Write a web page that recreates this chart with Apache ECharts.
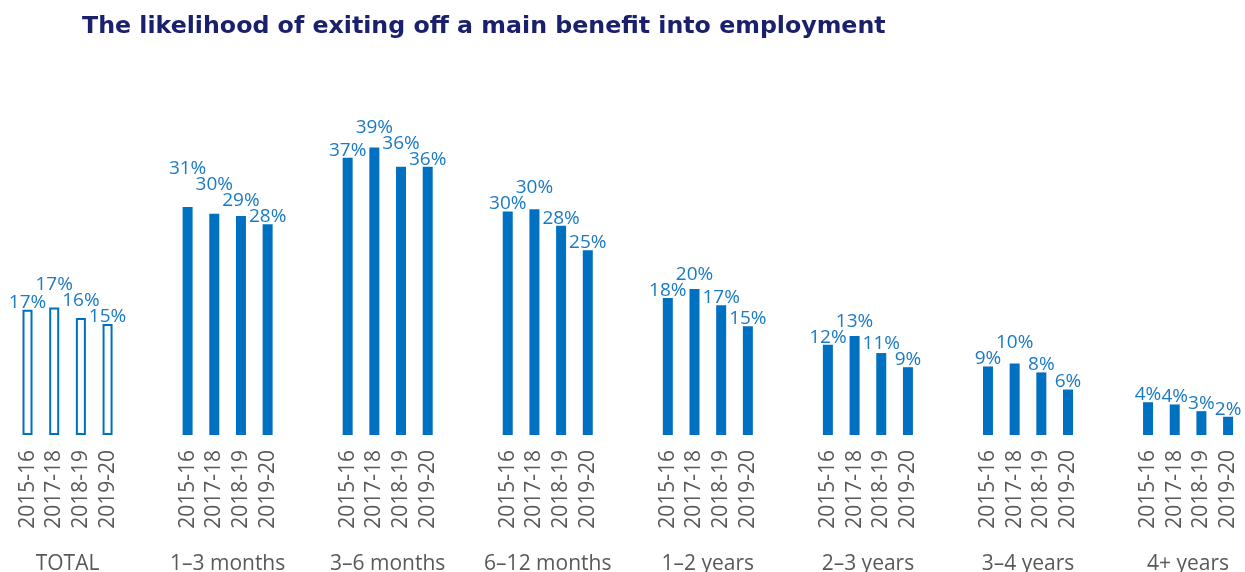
<!DOCTYPE html>
<html>
<head>
<meta charset="utf-8">
<script src="https://cdn.jsdelivr.net/npm/echarts@6/dist/echarts.min.js"></script>
<style>
html,body{margin:0;padding:0;background:#fff;}
#chart{width:1245px;height:572px;}
</style>
</head>
<body>
<div id="chart"></div>
<script>
// ---- data ----
const titleText = 'The likelihood of exiting off a main benefit into employment';
const groups = ['TOTAL', '1–3 months', '3–6 months', '6–12 months', '1–2 years', '2–3 years', '3–4 years', '4+ years'];
const years = ['2015-16', '2017-18', '2018-19', '2019-20'];
const totalVals = [16.8, 17.1, 15.7, 14.9];
const m1to3 = [30.6, 29.7, 29.4, 28.3];
const m3to6 = [37.2, 38.6, 36.0, 36.0];
const m6to12 = [30.0, 30.3, 28.1, 24.8];
const y1to2 = [18.4, 19.6, 17.4, 14.6];
const y2to3 = [12.1, 13.3, 11.0, 9.1];
const y3to4 = [9.2, 9.6, 8.4, 6.1];
const y4plus = [4.4, 4.1, 3.2, 2.45];
const groupValues = [totalVals, m1to3, m3to6, m6to12, y1to2, y2to3, y3to4, y4plus];

// ---- build slots: gap, 4 bars, gap per group ----
const BLUE = '#0070c0';
const LABEL_BLUE = '#1a7ac4';
const LABEL_SIZE = 19;
const LABEL_FONT = LABEL_SIZE + 'px "Open Sans"';
const categories = [];
const seriesData = [];
groups.forEach(function (g, gi) {
  categories.push('gap' + gi + 'a');
  seriesData.push(null);
  years.forEach(function (y, yi) {
    categories.push(gi + '|' + y);
    const item = { value: groupValues[gi][yi] };
    if (gi === 0) {
      item.itemStyle = { color: '#ffffff', borderColor: BLUE, borderWidth: 2 };
    }
    seriesData.push(item);
  });
  categories.push('gap' + gi + 'b');
  seriesData.push(null);
});

function fmtPct(v) { return Math.round(v) + '%'; }
const measureCtx = document.createElement('canvas').getContext('2d');
measureCtx.font = LABEL_FONT;
function textW(s) { return measureCtx.measureText(s).width; }

const chart = echarts.init(document.getElementById('chart'));

// label stacking: labels that would collide with a neighbour are lifted
function labelLayout(p) {
  const i = p.dataIndex;
  const g = Math.floor(i / 6);
  const k = (i % 6) - 1;
  const vals = groupValues[g];
  const r = p.rect;
  const ppu = r.height / vals[k];
  const base = r.y + r.height;
  let step = 26.7;
  try {
    const a = chart.convertToPixel({ xAxisIndex: 0 }, categories[g * 6 + 1]);
    const c = chart.convertToPixel({ xAxisIndex: 0 }, categories[g * 6 + 2]);
    if (isFinite(a) && isFinite(c)) step = c - a;
  } catch (e) {}
  const H = LABEL_SIZE * 0.84;
  const GAP = 2;
  const w = vals.map(function (v) { return textW(fmtPct(v)); });
  function ov(a, b) { return (w[a] + w[b]) / 2 > step + 1; }
  const nat = vals.map(function (v) { return base - v * ppu - GAP; });
  const b = nat.slice();
  for (let j = 2; j >= 1; j--) {
    b[j] = ov(j, j + 1) ? Math.min(nat[j], b[j + 1] - H) : nat[j];
  }
  if (ov(0, 1)) {
    if (vals[0] > vals[1]) {
      b[0] = Math.min(nat[0], b[1] - H);
    } else if (Math.abs(b[0] - b[1]) < H) {
      b[1] = Math.min(b[1], b[0] - H);
    }
  }
  return {
    x: r.x + r.width / 2,
    y: b[k] + 4,
    align: 'center',
    verticalAlign: 'bottom'
  };
}

const option = {
  backgroundColor: '#ffffff',
  animation: false,
  title: {
    text: titleText,
    left: 77,
    top: 10,
    textStyle: {
      fontFamily: 'DejaVu Sans',
      fontWeight: 'bold',
      fontSize: 23.7,
      color: '#1b206c'
    }
  },
  grid: {
    left: -12.5,
    right: -23.1,
    top: 137,
    bottom: 137,
    containLabel: false,
    outerBoundsMode: 'none'
  },
  xAxis: [
    {
      type: 'category',
      gridIndex: 0,
      position: 'bottom',
      data: categories,
      axisLine: { show: false },
      axisTick: { show: false },
      axisLabel: {
        interval: 0,
        rotate: 90,
        margin: 15,
        fontFamily: 'Open Sans',
        fontSize: 21,
        color: '#595959',
        formatter: function (v) {
          const idx = v.indexOf('|');
          return idx >= 0 ? v.slice(idx + 1) : '';
        }
      }
    },
    {
      type: 'category',
      gridIndex: 0,
      position: 'bottom',
      data: groups,
      axisLine: { show: false },
      axisTick: { show: false },
      axisLabel: {
        interval: 0,
        margin: 119,
        fontFamily: 'Open Sans',
        fontSize: 21,
        color: '#595959'
      }
    }
  ],
  yAxis: {
    type: 'value',
    min: 0,
    max: 40,
    show: false,
    splitLine: { show: false }
  },
  series: [
    {
      type: 'bar',
      xAxisIndex: 0,
      data: seriesData,
      barWidth: 10,
      itemStyle: { color: BLUE },
      label: {
        show: true,
        position: 'top',
        distance: 0,
        fontFamily: 'Open Sans',
        fontSize: LABEL_SIZE,
        color: LABEL_BLUE,
        formatter: function (p) { return fmtPct(p.value); }
      },
      labelLayout: labelLayout
    }
  ]
};

chart.setOption(option);
</script>
</body>
</html>
